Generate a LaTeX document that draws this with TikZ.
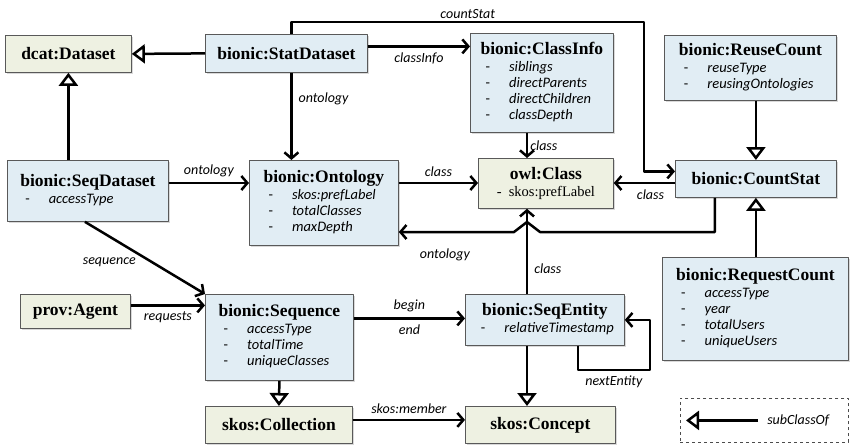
\documentclass[tikz,border=0pt]{standalone}
\usepackage{fontspec}
\setmainfont{Liberation Serif}
\newfontfamily\lblfont{Carlito}
\usetikzlibrary{arrows.meta,shadows}

\definecolor{clsblue}{HTML}{E1EDF4}
\definecolor{clsbeige}{HTML}{EEF1E2}

\newcommand{\clstitle}[1]{{\rmfamily\bfseries\fontsize{17.5}{20}\selectfont #1}}
\newcommand{\clsbody}[2]{\begin{tabular}{@{\hspace{5pt}}l@{\hspace{19pt}}l@{}}\multicolumn{2}{@{}c@{}}{\clstitle{#1}}\\[1pt]#2\end{tabular}}
\newcommand{\itm}[1]{- & \textit{#1}\\}

\tikzset{
  cls/.style={draw=black!65, line width=0.8pt, anchor=north west, inner sep=0pt, align=center,
    font=\lblfont\fontsize{14.5}{16}\selectfont,
    drop shadow={opacity=0.3, shadow xshift=1.5pt, shadow yshift=-1.5pt}},
  bluecls/.style={cls, fill=clsblue},
  beigecls/.style={cls, fill=clsbeige},
  rel/.style={line width=2.5pt, -{Straight Barb[length=6pt, width=14pt]}},
  sub/.style={line width=2.5pt, -{Triangle[open, length=13pt, width=19pt, fill=white]}},
  lbl/.style={font=\lblfont\itshape\fontsize{14}{16}\selectfont, inner sep=2pt}
}

\begin{document}
\begin{tikzpicture}[x=1pt, y=-1pt, line join=round]
\useasboundingbox (0,0) rectangle (851,445);

% classes
\node[beigecls, minimum width=126, minimum height=37] (dcat) at (5,35) {\clstitle{dcat:Dataset}};
\node[bluecls, minimum width=162, minimum height=38] (stat) at (205,34) {\clstitle{bionic:StatDataset}};
\node[bluecls, minimum width=143, minimum height=99] (classinfo) at (470,33)
  {\clsbody{bionic:ClassInfo}{\itm{siblings}\itm{directParents}\itm{directChildren}\itm{classDepth}}};
\node[bluecls, minimum width=172, minimum height=65] (reuse) at (664,35)
  {\clsbody{bionic:ReuseCount}{\itm{reuseType}\itm{reusingOntologies}}};
\node[bluecls, minimum width=161, minimum height=61] (seqds) at (7,160)
  {\clsbody{bionic:SeqDataset}{\itm{accessType}}};
\node[bluecls, minimum width=149, minimum height=85] (onto) at (249,160)
  {\clsbody{bionic:Ontology}{\itm{skos:prefLabel}\itm{totalClasses}\itm{maxDepth}}};
\node[beigecls, minimum width=135, minimum height=50] (owl) at (478,158)
  {\clstitle{owl:Class}\\[1pt]{\rmfamily -\ \ skos:prefLabel}};
\node[bluecls, minimum width=161, minimum height=37] (count) at (675,160) {\clstitle{bionic:CountStat}};
\node[bluecls, minimum width=186, minimum height=103] (req) at (662,257)
  {\clsbody{bionic:RequestCount}{\itm{accessType}\itm{year}\itm{totalUsers}\itm{uniqueUsers}}};
\node[beigecls, minimum width=110, minimum height=34] (agent) at (20,294) {\clstitle{prov:Agent}};
\node[bluecls, minimum width=148, minimum height=86] (seq) at (205,294)
  {\clsbody{bionic:Sequence}{\itm{accessType}\itm{totalTime}\itm{uniqueClasses}}};
\node[bluecls, minimum width=159, minimum height=51] (seqent) at (465,294)
  {\clsbody{bionic:SeqEntity}{\itm{relativeTimestamp}}};
\node[beigecls, minimum width=147, minimum height=37] (coll) at (205,406) {\clstitle{skos:Collection}};
\node[beigecls, minimum width=150, minimum height=37] (concept) at (465,406) {\clstitle{skos:Concept}};
\node[draw=black!70, dashed, line width=0.8pt, anchor=north west, minimum width=168, minimum height=44] (legend) at (680,398) {};

\coordinate (colx) at (527,0);
\coordinate (rowc) at (0,183);
\coordinate (rowo) at (0,232);
\coordinate (cstop) at (644,22);

% subclass links
\draw[sub] (stat.west) -- (dcat.east);
\draw[sub] (dcat.south |- seqds.north) -- (dcat.south);
\draw[sub] (reuse.south -| count.north) -- (count.north);
\draw[sub] (req.north -| count.south) -- (count.south);
\draw[sub] (seq.south) -- (coll.north);
\draw[sub] (seqent.south -| colx) -- (concept.north -| colx);

% properties
\draw[rel] ([xshift=5pt]stat.south) -- ([xshift=5pt]stat.south |- onto.north) node[lbl, pos=0.3, right=4pt] {ontology};
\draw[rel] ([yshift=7pt]stat.east) -- ([yshift=7pt]stat.east -| classinfo.west) node[lbl, midway, below=3pt] {classInfo};
\draw[rel] ([xshift=5pt]stat.north) |- (cstop) node[lbl, pos=0.75, above] {countStat} |- ([yshift=7.5pt]count.west);
\draw[rel] (classinfo.south -| colx) -- (owl.north -| colx) node[lbl, midway, right] {class};
\draw[rel] (seqds.east |- rowc) -- (onto.west |- rowc) node[lbl, midway, above=3pt] {ontology};
\draw[rel] (onto.east |- rowc) -- (owl.west |- rowc) node[lbl, midway, above=3pt] {class};
\draw[rel] (count.west |- rowc) -- (owl.east |- rowc) node[lbl, pos=0.4, below=4pt] {class};
\draw[rel] ([xshift=-41pt]count.south) -- ([xshift=-41pt]count.south |- rowo) -- ([xshift=13pt]colx |- rowo)
  -- ++(-13,-10) -- ++(-13,10) -- (onto.east |- rowo) node[lbl, pos=0.6, below=14pt] {ontology};
\draw[rel] (seqent.north -| colx) -- (owl.south -| colx) node[lbl, pos=0.3, right=4pt] {class};
\draw[rel] ([xshift=-3pt]seqds.south) -- (seq.north west) node[lbl, pos=0.45, below left] {sequence};
\draw[rel] ([yshift=6pt]agent.east) -- ([yshift=6pt]agent.east -| seq.west) node[lbl, midway, below=3pt] {requests};
\draw[rel] ([yshift=19pt]seq.east) -- ([yshift=19pt]seq.east -| seqent.west) node[lbl, midway, above=3pt] {begin} node[lbl, midway, below=3pt] {end};
\draw[rel] ([yshift=5pt]coll.east) -- ([yshift=5pt]coll.east -| concept.west) node[lbl, midway, above=3pt] {skos:member};
\draw[rel] ([xshift=33pt]seqent.south) -- ++(0,24) -- ++(72,0) node[lbl, midway, below=3pt] {nextEntity} |- (seqent.east);

% legend
\draw[sub] ([xshift=78pt]legend.west) node[lbl, right=6pt] {subClassOf} -- ([xshift=6pt]legend.west);
\end{tikzpicture}
\end{document}
